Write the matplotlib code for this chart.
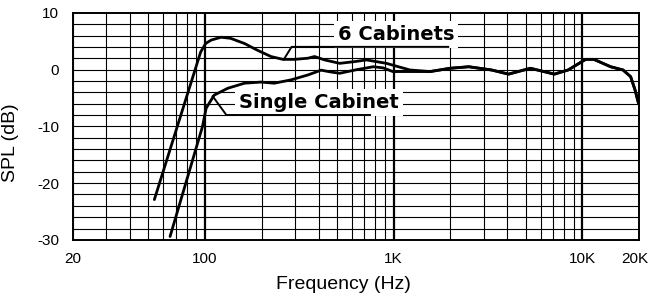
import numpy as np
import matplotlib
matplotlib.use('Agg')
import matplotlib.pyplot as plt
from matplotlib.ticker import FixedLocator, NullFormatter
from matplotlib.transforms import ScaledTranslation

plt.rcParams['font.family'] = ['Liberation Sans', 'DejaVu Sans']
plt.rcParams['axes.unicode_minus'] = False

# 6 个箱体的响应（低频段）
six_freq = [54, 95, 101, 108, 122, 137, 162, 190, 224, 259, 299, 351, 381, 431, 518, 620, 718, 915, 1220]
six_db = [-22.9, 3.1, 4.6, 5.2, 5.7, 5.5, 4.6, 3.4, 2.3, 1.8, 1.8, 2.0, 2.3, 1.7, 1.1, 1.4, 1.7, 1.1, -0.07]

# 单个箱体的响应（低频段）
single_freq = [65.4, 97, 101.6, 112, 132, 162, 198, 233, 287, 351, 413, 460, 518, 640, 780, 880, 990, 1220]
single_db = [-29.4, -10.1, -6.8, -4.5, -3.3, -2.4, -2.2, -2.4, -1.8, -0.95, -0.1, -0.4, -0.65, 0.0, 0.5, 0.3, -0.35, -0.35]

# 高频段两条曲线重合
hf_freq = [1560, 1990, 2500, 3300, 4060, 5300, 7100, 8400, 10400, 11500, 14100, 16400, 18000, 19000, 19800]
hf_db = [-0.35, 0.23, 0.5, -0.07, -0.8, 0.23, -0.8, -0.07, 1.8, 1.8, 0.5, -0.07, -1.25, -3.6, -5.9]

xtick_vals = [20, 100, 1000, 10000, 20000]
xtick_labels = ['20', '100', '1K', '10K', '20K']
ytick_vals = [-30, -20, -10, 0, 10]

fig = plt.figure(figsize=(6.51, 2.98), dpi=100)
ax = fig.add_axes([0.112, 0.195, 0.870, 0.762])
ax.set_xscale('log')
ax.set_xlim(20, 20000)
ax.set_ylim(-30, 10)

# 网格
minor_x = [f for d in (10, 100, 1000, 10000) for f in np.arange(2, 10) * d if 20 <= f <= 20000]
for f in minor_x:
    ax.axvline(f, color='black', lw=0.8, zorder=1)
for f in (100, 1000, 10000):
    ax.axvline(f, color='black', lw=1.6, zorder=1)
for v in np.arange(-28, 10, 2):
    ax.axhline(v, color='black', lw=0.8, zorder=1)

ax.plot(six_freq + hf_freq, six_db + hf_db, color='black', lw=2.0, zorder=3,
        solid_joinstyle='round', solid_capstyle='round')
ax.plot(single_freq + hf_freq, single_db + hf_db, color='black', lw=2.0, zorder=3,
        solid_joinstyle='round', solid_capstyle='round')

# 标注
box = dict(boxstyle='square,pad=0.2', fc='white', ec='none')
ax.text(506, 5.2, '6 Cabinets', family='DejaVu Sans', fontweight='bold', fontsize=14,
        va='baseline', ha='left', bbox=box, zorder=4)
ax.text(152, -6.75, 'Single Cabinet', family='DejaVu Sans', fontweight='bold', fontsize=14,
        va='baseline', ha='left', bbox=box, zorder=4)
ax.plot([262, 288, 1945], [1.8, 4.0, 4.0], color='black', lw=1.4, zorder=5)
ax.plot([110, 130, 749], [-4.7, -8.0, -8.0], color='black', lw=1.4, zorder=5)

ax.xaxis.set_major_locator(FixedLocator(xtick_vals))
ax.set_xticklabels(xtick_labels)
ax.xaxis.set_minor_formatter(NullFormatter())
ax.tick_params(axis='x', which='minor', length=0)
ax.set_yticks(ytick_vals)
ax.tick_params(axis='both', which='major', length=0, labelsize=11)
ax.tick_params(axis='x', pad=9)
ax.tick_params(axis='y', pad=10)

# 20K 标签贴近右边缘
last = ax.get_xticklabels()[-1]
last.set_ha('right')
last.set_transform(last.get_transform() + ScaledTranslation(9 / 100, 0, fig.dpi_scale_trans))

for s in ax.spines.values():
    s.set_linewidth(1.4)
    s.set_zorder(6)

ax.set_xlabel('Frequency (Hz)', fontsize=14)
ax.xaxis.set_label_coords(0.478, -0.16)
ax.set_ylabel('SPL (dB)', fontsize=14)
ax.yaxis.set_label_coords(-0.095, 0.43)

fig.savefig('out.png', dpi=100)
